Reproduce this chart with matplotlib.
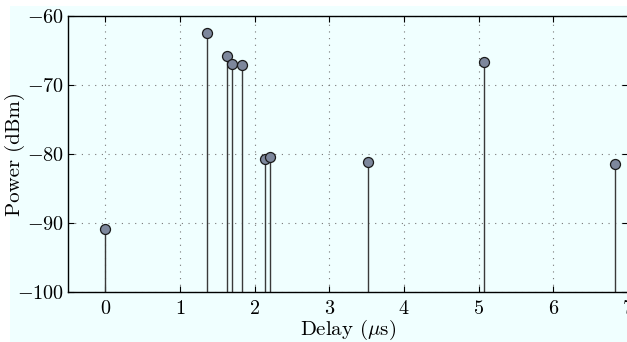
import numpy as np
import matplotlib
matplotlib.use('Agg')
import matplotlib.pyplot as plt
from matplotlib.patches import Rectangle

plt.rcParams['font.family'] = 'serif'
plt.rcParams['font.serif'] = ['cmr10']
plt.rcParams['mathtext.fontset'] = 'cm'
plt.rcParams['axes.formatter.use_mathtext'] = True
plt.rcParams['axes.unicode_minus'] = True

# delay (us) and power (dBm) of each path
delay = [0.0, 1.366, 1.63, 1.69, 1.825, 2.145, 2.21, 3.516, 5.065, 6.82]
power = [-90.9, -62.4, -65.8, -67.0, -67.1, -80.7, -80.4, -81.2, -66.6, -81.5]
xticks = [0, 1, 2, 3, 4, 5, 6, 7]
yticks = [-100, -90, -80, -70, -60]

bg = '#f0ffff'
fig = plt.figure(figsize=(6.27, 3.42), dpi=100, facecolor='white')
fig.patches.append(Rectangle((10/627, 0), 1, 1 - 6/342, transform=fig.transFigure,
                             facecolor=bg, edgecolor='none', zorder=-10))
ax = fig.add_axes([68/627, 1 - 292/342, 560/627, 276/342])
ax.set_facecolor(bg)

for x, y in zip(delay, power):
    ax.plot([x, x], [-100, y], color='#3a3a3a', lw=1.0, zorder=2)
ax.plot(delay, power, 'o', ms=7.2, mfc='#7d879c', mec='#1a1a1a', mew=0.9, zorder=3)

ax.set_xlim(-0.5, 7.0)
ax.set_ylim(-100, -60)
ax.set_xticks(xticks)
ax.set_yticks(yticks)
ax.grid(True, linestyle=(0, (1, 5)), color='#777777', lw=0.8)
ax.tick_params(direction='in', top=True, right=True, labelsize=14.5, length=4)
ax.tick_params(axis='x', pad=6)
ax.tick_params(axis='y', pad=3)
for s in ax.spines.values():
    s.set_linewidth(1.0)

ax.set_xlabel(r'Delay ($\mu$s)', fontsize=15)
ax.set_ylabel('Power (dBm)', fontsize=15)
ax.xaxis.set_label_coords(0.5, -0.092)
ax.yaxis.set_label_coords(-0.076, 0.5)

fig.savefig('out.png', dpi=100, facecolor=fig.get_facecolor())
